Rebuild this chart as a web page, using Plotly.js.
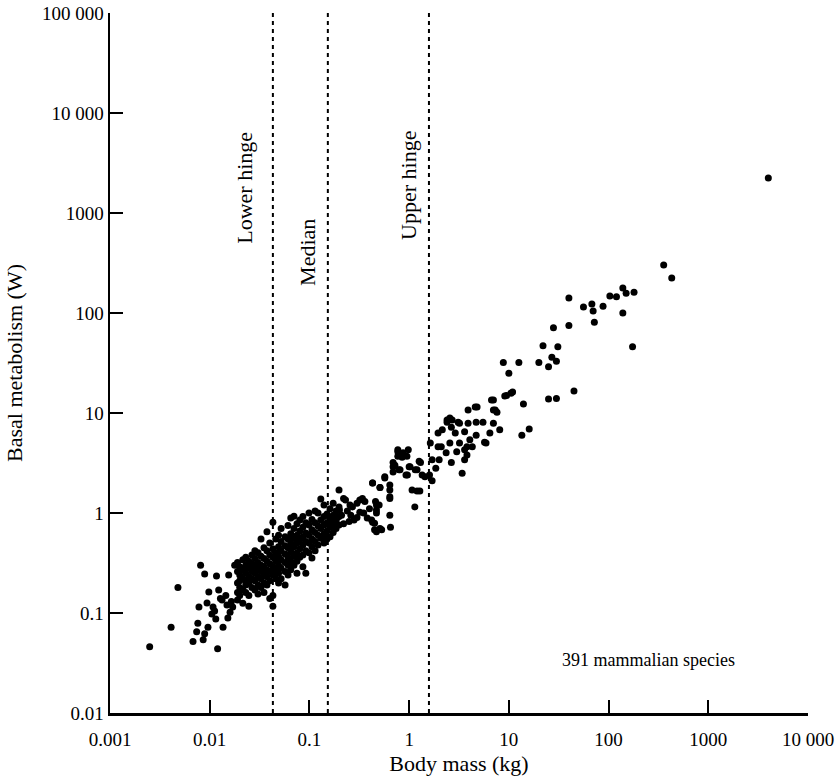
<!DOCTYPE html>
<html>
<head>
<meta charset="utf-8">
<script src="https://cdn.plot.ly/plotly-3.0.1.min.js"></script>
<style>html,body{margin:0;padding:0;background:#fff;}#chart{width:840px;height:776px;}</style>
</head>
<body>
<div id="chart"></div>
<script>
// [body mass (kg), basal metabolism (W)]
const smallSpecies = [
  [0.0025,0.046],[0.0041,0.072],[0.0048,0.18],[0.012,0.044],[0.0081,0.30],[0.0089,0.245],
  [0.0117,0.234],[0.0155,0.24],[0.0178,0.30],[0.0098,0.162],[0.0123,0.17],[0.0078,0.115],
  [0.0094,0.126],[0.0108,0.115],[0.0133,0.135],[0.0149,0.12],[0.016,0.102],[0.017,0.115],
  [0.0152,0.089],[0.0115,0.087],[0.0136,0.072],[0.0096,0.072],[0.0076,0.079],[0.0074,0.065],
  [0.0086,0.054],[0.0068,0.052],[0.0089,0.062],[0.0145,0.15],[0.0128,0.14],[0.0165,0.13],
  [0.0105,0.098],[0.0112,0.105]
];
const mouseSized = [
  [0.019,0.32],[0.019,0.26],[0.019,0.20],[0.019,0.16],[0.019,0.135],
  [0.020,0.29],[0.020,0.24],[0.020,0.21],[0.020,0.18],[0.020,0.15],
  [0.0215,0.34],[0.0215,0.27],[0.0215,0.22],[0.0215,0.17],[0.0215,0.125],
  [0.023,0.36],[0.023,0.30],[0.023,0.25],[0.023,0.21],[0.023,0.19],[0.023,0.16],
  [0.0247,0.33],[0.0247,0.28],[0.0247,0.23],[0.0247,0.20],[0.0247,0.15],[0.0247,0.117],
  [0.0265,0.38],[0.0265,0.31],[0.0265,0.26],[0.0265,0.22],[0.0265,0.18],
  [0.0284,0.42],[0.0284,0.35],[0.0284,0.29],[0.0284,0.25],[0.0284,0.21],[0.0284,0.17],
  [0.0305,0.40],[0.0305,0.32],[0.0305,0.27],[0.0305,0.23],[0.0305,0.19],[0.0305,0.155],
  [0.0327,0.55],[0.0327,0.37],[0.0327,0.30],[0.0327,0.26],[0.0327,0.22],[0.0327,0.18],
  [0.035,0.45],[0.035,0.35],[0.035,0.29],[0.035,0.245],[0.035,0.20],[0.035,0.16],
  [0.0375,0.65],[0.0375,0.42],[0.0375,0.33],[0.0375,0.27],[0.0375,0.23],[0.0375,0.19],
  [0.040,0.50],[0.040,0.38],[0.040,0.31],[0.040,0.26],[0.040,0.21],[0.040,0.14],
  [0.043,0.81],[0.043,0.44],[0.043,0.36],[0.043,0.29],[0.043,0.24],[0.043,0.15],[0.043,0.117],
  [0.046,0.55],[0.046,0.40],[0.046,0.33],[0.046,0.27],[0.046,0.22],
  [0.049,0.60],[0.049,0.46],[0.049,0.37],[0.049,0.30],[0.049,0.25],[0.049,0.20]
];
const ratSized = [
  [0.052,0.70],[0.052,0.52],[0.052,0.42],[0.052,0.34],[0.052,0.28],[0.052,0.22],
  [0.057,0.58],[0.057,0.47],[0.057,0.39],[0.057,0.32],[0.057,0.26],[0.057,0.19],
  [0.061,0.75],[0.061,0.55],[0.061,0.45],[0.061,0.36],[0.061,0.30],[0.061,0.24],
  [0.065,0.89],[0.065,0.62],[0.065,0.50],[0.065,0.41],[0.065,0.33],[0.065,0.27],
  [0.070,0.93],[0.070,0.70],[0.070,0.56],[0.070,0.46],[0.070,0.37],[0.070,0.30],
  [0.075,0.78],[0.075,0.60],[0.075,0.50],[0.075,0.40],[0.075,0.33],[0.075,0.25],
  [0.080,0.85],[0.080,0.66],[0.080,0.54],[0.080,0.44],[0.080,0.36],
  [0.086,0.92],[0.086,0.72],[0.086,0.58],[0.086,0.48],[0.086,0.38],[0.086,0.29],
  [0.092,0.80],[0.092,0.63],[0.092,0.52],[0.092,0.42],[0.092,0.25],
  [0.099,1.0],[0.099,0.76],[0.099,0.60],[0.099,0.50],[0.099,0.40],
  [0.106,0.86],[0.106,0.68],[0.106,0.55],[0.106,0.46],[0.106,0.355],
  [0.114,1.05],[0.114,0.80],[0.114,0.64],[0.114,0.52],[0.114,0.42],
  [0.122,1.0],[0.122,0.74],[0.122,0.60],[0.122,0.48],
  [0.13,1.38],[0.13,0.85],[0.13,0.70],[0.13,0.56],
  [0.14,1.2],[0.14,0.92],[0.14,0.76],[0.14,0.62],[0.14,0.50],
  [0.15,0.98],[0.15,0.80],[0.15,0.66],[0.15,0.55],
  [0.161,1.1],[0.161,0.88],[0.161,0.72],[0.161,0.58],
  [0.173,1.25],[0.173,0.95],[0.173,0.78],[0.173,0.64],
  [0.185,1.05],[0.185,0.84],[0.185,0.70],
  [0.198,1.7],[0.198,1.15],[0.198,0.92],[0.198,0.76]
];
const midSized = [
  [0.23,1.35],[0.255,1.2],[0.32,1.35],[0.36,1.3],[0.46,1.3],[0.47,1.0],[0.43,0.81],
  [0.47,0.65],[0.53,0.68],[0.65,0.72],[0.43,2.0],[0.57,2.24],[0.64,1.9],[0.69,2.57],
  [0.72,3.0],[0.77,4.1],[0.64,1.7],[0.5,1.2],[0.47,1.07],[0.64,0.95],[0.51,0.7],
  [0.45,0.68],[0.27,1.15],[0.30,1.25],[0.34,1.4],[0.22,1.4],[0.20,1.07],[0.26,0.95],
  [0.32,1.02],[0.38,0.89],[0.42,0.85],[0.28,0.85],[0.21,0.95],[0.17,0.85],[0.22,0.78],
  [0.25,0.82],[0.30,0.90],[0.35,1.0],[0.40,1.1],[0.24,1.05],[0.19,0.9],
  [0.69,2.9],[0.77,3.7],[0.85,3.6],[0.95,3.7],[0.79,2.7],[0.93,2.4],[1.0,2.9],
  [1.15,2.7],[1.26,3.3],[1.35,2.4],[1.2,1.66],[1.28,1.66],[1.7,2.1],[0.64,1.4],
  [0.51,1.8],[1.14,1.15],[1.07,1.7],[0.45,0.79],[0.47,1.2]
];
const largeSized = [
  [1.63,5.0],[1.7,3.4],[1.95,6.3],[2.15,6.8],[2.4,8.1],[2.7,8.5],[2.1,4.6],[2.35,4.0],
  [2.56,5.0],[2.65,3.2],[3.2,7.9],[3.6,6.5],[3.2,5.0],[3.6,4.3],[3.6,3.4],[3.4,2.5],
  [3.0,4.1],[1.95,4.6],[2.4,8.5],[2.56,8.9],[2.65,7.2],[2.9,6.3],[3.8,4.6],[4.3,4.6],
  [3.8,3.8],[4.06,5.4],[4.7,6.0],[5.7,5.1],[6.45,6.3],[8.1,6.8],[3.1,8.1],[3.9,7.9],
  [4.7,8.1],[5.5,8.1],[7.0,7.9],[4.8,11.5],[3.9,10.7],[7.0,13.5],[7.0,10.7],[7.6,10.2],
  [9.5,15],[10.5,15.8],[1.6,2.4],[1.44,2.3],[1.3,3.2],[1.2,2.7],[1.02,2.9],[0.96,2.4],
  [0.81,2.7],[0.98,4.3],[0.87,4.0],[0.77,4.3],[0.69,3.2],[0.57,2.3],[0.43,2.0],
  [0.51,1.8],[0.64,1.45],[2.0,3.4],[1.85,2.8],[5.9,5.0],[9.1,14.8],[10.9,16.2],
  [7.3,10.7],[6.7,13.5],[4.6,11.5]
];
const veryLarge = [
  [22,47],[31,46],[8.8,32],[12.6,32],[20,32],[25,29],[10,25],[27,36],[30,33],
  [14,12.3],[25,13.8],[30,14],[13.5,6.0],[16,6.9],[45,16.6],[28,71],[40,75],[40,141],
  [72,81],[56,115],[68,123],[70,105],[88,117],[103,148],[120,145],[139,178],[150,158],
  [180,161],[139,100],[174,46],[357,302],[430,224],[4000,2240]
];
const hingeMass = [0.043, 0.153, 1.58];
const hingeLabels = ["Lower hinge", "Median", "Upper hinge"];
const hingeLabelY = [1780, 400, 1900];
const hingeLabelX = [0.0225, 0.097, 0.97];
const xTickVals = [0.001, 0.01, 0.1, 1, 10, 100, 1000, 10000];
const xTickText = ["0.001", "0.01", "0.1", "1", "10", "100", "1000", "10 000"];
const yTickVals = [0.01, 0.1, 1, 10, 100, 1000, 10000, 100000];
const yTickText = ["0.01", "0.1", "1", "10", "100", "1000", "10 000", "100 000"];

const all = [].concat(smallSpecies, mouseSized, ratSized, midSized, largeSized, veryLarge);
const font = "Liberation Serif, Times New Roman, serif";

const trace = {
  x: all.map(p => p[0]), y: all.map(p => p[1]),
  type: "scatter", mode: "markers",
  marker: {color: "#000", size: 7},
  hoverinfo: "x+y", showlegend: false
};

const shapes = hingeMass.map(m => ({
  type: "line", xref: "x", yref: "paper", x0: m, x1: m, y0: 0, y1: 1,
  line: {color: "#000", width: 2, dash: "4px,4px"}
}));

const annotations = hingeLabels.map((t, i) => ({
  text: t, xref: "x", yref: "y",
  x: Math.log10(hingeLabelX[i]), y: Math.log10(hingeLabelY[i]),
  textangle: -90, showarrow: false, font: {family: font, size: 22, color: "#000"}
}));
annotations.push({
  text: "391 mammalian species", xref: "x", yref: "y",
  x: Math.log10(250), y: Math.log10(0.034), showarrow: false,
  font: {family: font, size: 18, color: "#000"}
});

const layout = {
  width: 840, height: 776,
  margin: {l: 110, r: 32, t: 13, b: 63},
  paper_bgcolor: "#fff", plot_bgcolor: "#fff",
  font: {family: font, color: "#000"},
  xaxis: {
    type: "log", range: [-3, 4], tickvals: xTickVals, ticktext: xTickText,
    ticks: "inside", ticklen: 13, tickwidth: 2, tickcolor: "#000",
    showline: true, linewidth: 2.5, linecolor: "#000", mirror: false,
    showgrid: false, zeroline: false, ticklabelstandoff: 8,
    tickfont: {family: font, size: 19, color: "#000"},
    title: {text: "Body mass (kg)", font: {family: font, size: 22, color: "#000"}, standoff: 8}
  },
  yaxis: {
    type: "log", range: [-2, 5], tickvals: yTickVals, ticktext: yTickText,
    ticks: "inside", ticklen: 13, tickwidth: 2, tickcolor: "#000",
    showline: true, linewidth: 2.5, linecolor: "#000", mirror: false,
    showgrid: false, zeroline: false,
    tickfont: {family: font, size: 19, color: "#000"},
    title: {text: "Basal metabolism (W)", font: {family: font, size: 22, color: "#000"}, standoff: 14}
  },
  shapes: shapes,
  annotations: annotations
};

Plotly.newPlot("chart", [trace], layout, {displayModeBar: false, staticPlot: true});
</script>
</body>
</html>
